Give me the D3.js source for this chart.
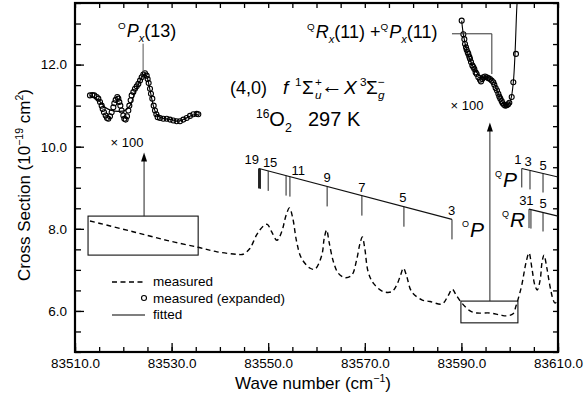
<!DOCTYPE html>
<html>
<head>
<meta charset="utf-8">
<script src="https://cdn.jsdelivr.net/npm/d3@7"></script>
<style>
body { margin: 0; background: #fff; }
svg { display: block; font-family: "Liberation Sans", Arial, Helvetica, sans-serif; }
</style>
</head>
<body>
<svg id="chart" width="584" height="400"></svg>
<script>
// axis ticks
var xTicks = [83510, 83530, 83550, 83570, 83590, 83610];
var yTicks = [6, 8, 10, 12];

// measured cross section, [wave number, 10^-19 cm2]
var measured = [
	[83513.1, 8.19], [83515.2, 8.13], [83522.0, 7.93], [83529.0, 7.72], [83535.5, 7.55],
	[83539.4, 7.44], [83543.5, 7.38], [83544.8, 7.38], [83546.2, 7.52], [83547.6, 7.85],
	[83549.0, 8.07], [83549.8, 8.11], [83550.7, 7.93], [83551.8, 7.72], [83552.8, 7.93],
	[83553.7, 8.33], [83554.4, 8.51], [83555.1, 8.25], [83555.9, 7.68], [83556.9, 7.28],
	[83558.7, 7.04], [83559.7, 7.02], [83561.1, 7.36], [83561.6, 7.77], [83562.1, 7.97],
	[83562.6, 7.68], [83563.5, 7.20], [83564.5, 6.92], [83565.9, 6.81], [83567.3, 6.87],
	[83568.3, 7.24], [83569.0, 7.64], [83569.5, 7.80], [83570.0, 7.52], [83570.7, 6.95],
	[83571.8, 6.67], [83573.8, 6.47], [83575.6, 6.47], [83576.6, 6.63], [83577.4, 6.87],
	[83578.0, 7.04], [83578.7, 6.83], [83579.7, 6.47], [83581.8, 6.27], [83583.5, 6.23],
	[83586.0, 6.17], [83587.2, 6.36], [83588.1, 6.53], [83588.9, 6.39], [83590.1, 6.19],
	[83591.8, 6.00], [83593.2, 5.95], [83595.9, 5.95], [83598.0, 5.90], [83599.4, 5.88],
	[83600.7, 5.93], [83601.3, 6.12], [83601.7, 6.27], [83602.5, 6.63], [83603.4, 7.19],
	[83604.0, 7.41], [83604.6, 7.04], [83605.2, 6.63], [83605.7, 6.51], [83606.3, 6.75],
	[83606.7, 7.19], [83607.1, 7.36], [83607.7, 7.04], [83608.3, 6.63], [83609.0, 6.27],
	[83609.4, 6.19], [83610.0, 6.27]
];

// expanded (x100) insets, drawn in plot units
var expandedLeft = [
	[83513.10, 11.25], [83513.59, 11.26], [83514.00, 11.25], [83514.49, 11.21], [83514.83, 11.17],
	[83515.18, 11.09], [83515.52, 11.00], [83515.73, 10.92], [83516.00, 10.84], [83516.35, 10.76],
	[83516.63, 10.70], [83516.90, 10.68], [83517.25, 10.74], [83517.59, 10.84], [83517.94, 10.96],
	[83518.14, 11.06], [83518.42, 11.14], [83518.76, 11.21], [83518.97, 11.17], [83519.18, 11.09],
	[83519.39, 11.00], [83519.66, 10.88], [83520.00, 10.76], [83520.21, 10.68], [83520.49, 10.66],
	[83520.77, 10.74], [83521.04, 10.88], [83521.25, 11.00], [83521.52, 11.13], [83521.73, 11.25],
	[83522.08, 11.33], [83522.42, 11.41], [83522.77, 11.47], [83523.11, 11.53], [83523.46, 11.61],
	[83523.80, 11.69], [83524.15, 11.76], [83524.49, 11.79], [83524.84, 11.73], [83525.04, 11.65],
	[83525.25, 11.55], [83525.53, 11.41], [83525.73, 11.29], [83526.01, 11.17], [83526.29, 11.00],
	[83526.56, 10.88], [83526.84, 10.79], [83527.11, 10.72], [83527.60, 10.70], [83528.29, 10.68],
	[83528.98, 10.68], [83529.67, 10.66], [83530.36, 10.64], [83531.05, 10.62], [83531.74, 10.62],
	[83532.43, 10.66], [83533.12, 10.70], [83533.81, 10.75], [83534.50, 10.79], [83535.19, 10.80],
	[83535.53, 10.79]
];
var fittedLeft = [
	[83513.10, 11.25], [83514.83, 11.14], [83516.21, 10.96], [83517.59, 10.88], [83518.97, 10.86],
	[83520.35, 10.88], [83521.39, 11.00], [83522.42, 11.33], [83523.46, 11.60], [83524.35, 11.77],
	[83524.84, 11.71], [83525.53, 11.38], [83526.22, 11.00], [83526.91, 10.78], [83527.94, 10.70],
	[83530.01, 10.66], [83531.39, 10.62], [83532.77, 10.68], [83534.15, 10.76], [83535.53, 10.79]
];
var expandedRight = [
	[83590.06, 13.07], [83590.40, 12.74], [83590.61, 12.62], [83590.75, 12.50], [83590.95, 12.42],
	[83591.09, 12.36], [83591.30, 12.30], [83591.44, 12.26], [83591.64, 12.19], [83591.78, 12.14],
	[83591.99, 12.06], [83592.26, 11.98], [83592.47, 11.94], [83592.68, 11.89], [83592.95, 11.81],
	[83593.16, 11.77], [83593.51, 11.69], [83593.85, 11.63], [83594.06, 11.59], [83594.33, 11.65],
	[83594.54, 11.69], [83594.89, 11.71], [83595.23, 11.69], [83595.58, 11.67], [83595.92, 11.65],
	[83596.27, 11.61], [83596.61, 11.57], [83596.82, 11.51], [83597.09, 11.43], [83597.37, 11.37],
	[83597.65, 11.29], [83597.85, 11.22], [83598.06, 11.17], [83598.34, 11.11], [83598.54, 11.06],
	[83598.82, 11.02], [83599.10, 11.00], [83599.37, 11.01], [83599.65, 11.03], [83599.92, 11.07],
	[83600.41, 11.21], [83600.75, 11.57], [83601.30, 12.26]
];
var fittedRight = [
	[83590.06, 13.07], [83590.40, 12.74], [83591.09, 12.36], [83592.13, 12.02], [83593.16, 11.81],
	[83594.20, 11.69], [83595.23, 11.69], [83596.27, 11.65], [83596.96, 11.49], [83597.99, 11.19],
	[83599.03, 11.00], [83599.72, 11.02], [83600.27, 11.17], [83600.75, 11.57], [83601.10, 12.26],
	[83601.44, 13.31], [83601.58, 13.60]
];

// expanded regions: [wn0, wn1, v0, v1], arrow tips
var boxLeft = [83512.7, 83535.5, 7.36, 8.31];
var boxRight = [83589.9, 83601.7, 5.71, 6.24];
var arrowLeft = [83524.3, 9.86];
var arrowRight = [83595.9, 10.59];

// rotational branches
var opLine = [[83548.1, 9.47], [83588.05, 8.23]];
var opLines = [83548.0, 83548.2, 83548.4, 83550.0, 83553.7, 83554.5, 83562.2, 83569.4, 83578.1, 83588.05];
var opLabels = [["19", 83546.6], ["15", 83550.4], ["11", 83556.2], ["9", 83562.2], ["7", 83569.4], ["5", 83577.9], ["3", 83588.0]];
var qpLine = [[83602.5, 9.47], [83610.0, 9.26]];
var qpLines = [83602.5, 83604.2, 83606.9];
var qpLabels = [["1", 83601.7], ["3", 83603.8], ["5", 83606.9]];
var qrLine = [[83604.0, 8.48], [83610.0, 8.31]];
var qrLines = [83604.0, 83604.4, 83606.9];
var qrLabels = [["3", 83602.75], ["1", 83604.2], ["5", 83606.9]];

var svg = d3.select("#chart");
var plotLeft = 75, plotRight = 558, plotTop = 3, plotBottom = 352;
var x = d3.scaleLinear().domain([83510, 83610]).range([plotLeft, plotRight]);
var y = d3.scaleLinear().domain([5, 13.5]).range([plotBottom, plotTop]);

svg.append("rect").attr("width", 584).attr("height", 400).attr("fill", "#fff");

svg.append("clipPath").attr("id", "plot").append("rect")
	.attr("x", plotLeft).attr("y", plotTop).attr("width", plotRight - plotLeft).attr("height", plotBottom - plotTop);

// axes, ticks inward on all four sides
function drawAxis(axis, tx, ty) {
	var g = svg.append("g").attr("transform", "translate(" + tx + "," + ty + ")").call(axis);
	g.select(".domain").remove();
	g.selectAll("line").attr("stroke", "#000").attr("stroke-width", 1.3);
	g.selectAll("text").attr("font-family", "Liberation Sans, Arial").attr("font-size", 13.5).attr("fill", "#000");
	return g;
}
var xMinor = d3.range(83510, 83611, 5), yMinor = d3.range(5, 13.6, 0.5);

drawAxis(d3.axisBottom(x).tickValues(xMinor).tickSize(-5).tickFormat(""), 0, plotBottom);
drawAxis(d3.axisBottom(x).tickValues(xTicks).tickSize(-9).tickPadding(6).tickFormat(d3.format(".1f")), 0, plotBottom);
drawAxis(d3.axisTop(x).tickValues(xMinor).tickSize(-5).tickFormat(""), 0, plotTop);
drawAxis(d3.axisLeft(y).tickValues(yMinor).tickSize(-6).tickFormat(""), plotLeft, 0);
drawAxis(d3.axisLeft(y).tickValues(yTicks).tickSize(-9).tickPadding(8).tickFormat(d3.format(".1f")), plotLeft, 0);
drawAxis(d3.axisRight(y).tickValues(yMinor).tickSize(-5).tickFormat(""), plotRight, 0);

svg.append("rect")
	.attr("x", plotLeft).attr("y", plotTop).attr("width", plotRight - plotLeft).attr("height", plotBottom - plotTop)
	.attr("fill", "none").attr("stroke", "#000").attr("stroke-width", 2.2);

// text with sub/superscripts
function richText(tx, ty, size, parts, anchor) {
	var t = svg.append("text").attr("x", tx).attr("y", ty).attr("font-size", size)
		.attr("text-anchor", anchor || "start").attr("fill", "#000");
	var shift = 0;
	parts.forEach(function(p) {
		var s = t.append("tspan").text(p.t);
		var off = p.sup ? -0.42 * size : (p.sub ? 0.28 * size : (p.raise ? -p.raise : 0));
		s.attr("dy", off - shift);
		shift = off;
		if (p.sup || p.sub) s.attr("font-size", size * (p.small || 0.62));
		if (p.size) s.attr("font-size", p.size);
		if (p.it) s.attr("font-style", "italic");
		if (p.dx) s.attr("dx", p.dx);
		if (p.x != null) s.attr("x", p.x);
	});
	return t;
}

var plot = svg.append("g").attr("clip-path", "url(#plot)");
var line = d3.line().x(function(d) { return x(d[0]); }).y(function(d) { return y(d[1]); })
	.curve(d3.curveCatmullRom.alpha(0.5));

plot.append("path").datum(measured).attr("d", line)
	.attr("fill", "none").attr("stroke", "#000").attr("stroke-width", 1.4).attr("stroke-dasharray", "5,3.5");

[fittedLeft, fittedRight].forEach(function(f) {
	plot.append("path").datum(f).attr("d", line)
		.attr("fill", "none").attr("stroke", "#000").attr("stroke-width", 1.1);
});
[expandedLeft, expandedRight].forEach(function(e) {
	plot.selectAll(null).data(e).enter().append("circle")
		.attr("cx", function(d) { return x(d[0]); })
		.attr("cy", function(d) { return y(d[1]); })
		.attr("r", 2.5).attr("fill", "none").attr("stroke", "#000").attr("stroke-width", 1.1);
});

// boxes and arrows
[[boxLeft, arrowLeft], [boxRight, arrowRight]].forEach(function(b) {
	var bx = b[0], a = b[1];
	svg.append("rect")
		.attr("x", x(bx[0])).attr("y", y(bx[3]))
		.attr("width", x(bx[1]) - x(bx[0])).attr("height", y(bx[2]) - y(bx[3]))
		.attr("fill", "none").attr("stroke", "#111").attr("stroke-width", 1.1);
	var ax = x(a[0]), ay = y(a[1]);
	svg.append("line").attr("x1", ax).attr("x2", ax).attr("y1", y(bx[3])).attr("y2", ay + 6)
		.attr("stroke", "#222").attr("stroke-width", 1);
	svg.append("path").attr("d", "M" + ax + "," + ay + "L" + (ax - 3) + "," + (ay + 9) + "L" + (ax + 3) + "," + (ay + 9) + "Z")
		.attr("fill", "#000");
});

svg.append("text").attr("x", 127).attr("y", 147).attr("text-anchor", "middle").attr("font-size", 13).text("\u00d7 100");
svg.append("text").attr("x", 467).attr("y", 110).attr("text-anchor", "middle").attr("font-size", 13).text("\u00d7 100");

// peak annotations
svg.append("line").attr("x1", x(83524.1)).attr("x2", x(83524.1)).attr("y1", y(12.51)).attr("y2", y(11.81))
	.attr("stroke", "#555").attr("stroke-width", 1);
richText(118, 37, 18, [{t: "O", sup: true, small: 0.55}, {t: "P", it: true, dx: 1}, {t: "x", sub: true, it: true}, {t: "(13)"}]);

svg.append("path")
	.attr("d", "M" + x(83588.05) + "," + y(12.75) + "H" + x(83596.3) + "V" + y(11.77))
	.attr("fill", "none").attr("stroke", "#333").attr("stroke-width", 1);
richText(307, 38, 18, [{t: "Q", sup: true, small: 0.55}, {t: "R", it: true, dx: 1}, {t: "x", sub: true, it: true}, {t: "(11) +"},
	{t: "Q", sup: true, small: 0.55}, {t: "P", it: true, dx: 1}, {t: "x", sub: true, it: true}, {t: "(11)"}]);

// band label
svg.append("text").attr("x", 230).attr("y", 94).attr("font-size", 18).text("(4,0)");
richText(283, 94, 19, [{t: "f", it: true}, {t: "1", sup: true, x: 295}, {t: "\u03a3", x: 302},
	{t: "u", sub: true, it: true, x: 315}, {t: "+", sup: true, x: 315},
	{t: "\u2190", x: 321, size: 22, raise: 1},
	{t: "X", it: true, x: 344}, {t: "3", sup: true, x: 360}, {t: "\u03a3", x: 366},
	{t: "g", sub: true, it: true, x: 378}, {t: "\u2212", sup: true, x: 378}]);
richText(256, 126, 20, [{t: "16", sup: true, small: 0.6}, {t: "O"}, {t: "2", sub: true}, {t: "297 K", x: 308}]);

// branch combs
function branch(ln, ticks, labels, len, name, nx, ny, nsup) {
	var ly = d3.scaleLinear().domain([ln[0][0], ln[1][0]]).range([ln[0][1], ln[1][1]]).clamp(true);
	svg.append("line")
		.attr("x1", x(ln[0][0])).attr("y1", y(ln[0][1])).attr("x2", x(ln[1][0])).attr("y2", y(ln[1][1]))
		.attr("stroke", "#111").attr("stroke-width", 1.1);
	svg.selectAll(null).data(ticks).enter().append("line")
		.attr("x1", function(d) { return x(d); }).attr("x2", function(d) { return x(d); })
		.attr("y1", function(d) { return y(ly(d)); }).attr("y2", function(d) { return y(ly(d)) + len; })
		.attr("stroke", "#222").attr("stroke-width", 1);
	svg.selectAll(null).data(labels).enter().append("text")
		.attr("x", function(d) { return x(d[1]); }).attr("y", function(d) { return y(ly(d[1])) - 4; })
		.attr("text-anchor", "middle").attr("font-size", 13).text(function(d) { return d[0]; });
	svg.append("text").attr("x", nx - 1).attr("y", ny - 10).attr("font-size", 9).text(nsup);
	svg.append("text").attr("x", nx + 7).attr("y", ny).attr("font-size", 21).attr("font-style", "italic").text(name);
}
branch(opLine, opLines, opLabels, 20, "P", 463, 237, "O");
branch(qpLine, qpLines, qpLabels, 19, "P", 496, 187, "Q");
branch(qrLine, qrLines, qrLabels, 19, "R", 503, 227, "Q");

// legend
svg.append("line").attr("x1", 112).attr("x2", 145).attr("y1", 282).attr("y2", 282)
	.attr("stroke", "#000").attr("stroke-width", 1.4).attr("stroke-dasharray", "5,3.5");
svg.append("circle").attr("cx", 144).attr("cy", 298).attr("r", 2.5)
	.attr("fill", "none").attr("stroke", "#000").attr("stroke-width", 1.1);
svg.append("line").attr("x1", 112).attr("x2", 145).attr("y1", 315).attr("y2", 315)
	.attr("stroke", "#000").attr("stroke-width", 1.2);
[["measured", 286], ["measured (expanded)", 303], ["fitted", 319]].forEach(function(l) {
	svg.append("text").attr("x", 153).attr("y", l[1]).attr("font-size", 13.5).text(l[0]);
});

// axis titles
richText(313, 389, 17, [{t: "Wave number (cm"}, {t: "\u22121", sup: true}, {t: ")"}], "middle");
var yt = richText(0, 0, 17, [{t: "Cross Section (10"}, {t: "\u221219", sup: true}, {t: " cm"}, {t: "2", sup: true}, {t: ")"}], "middle");
yt.attr("transform", "translate(30,185) rotate(-90)");
</script>
</body>
</html>
